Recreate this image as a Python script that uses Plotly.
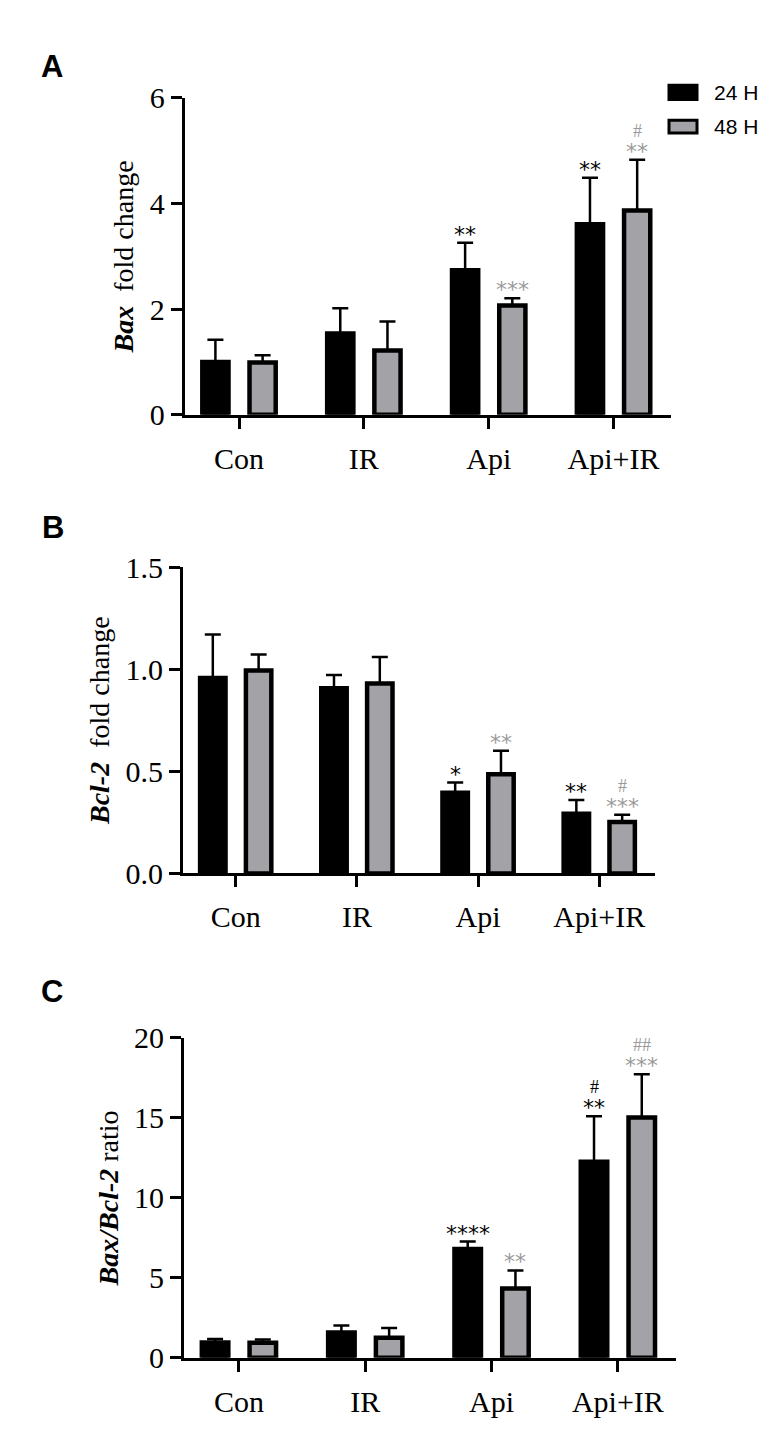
import plotly.graph_objects as go

W, H = 771, 1444

categories = ["Con", "IR", "Api", "Api+IR"]
series_names = ["24 H", "48 H"]
series_colors = ["#000000", "#a3a3a7"]
mark_colors = ["#000000", "#9a9a9a"]

# Panel A: Bax fold change
bax_24 = [1.00, 1.54, 2.74, 3.61]
bax_24_err = [0.42, 0.48, 0.52, 0.88]
bax_48 = [0.99, 1.22, 2.07, 3.87]
bax_48_err = [0.14, 0.55, 0.14, 0.96]

# Panel B: Bcl-2 fold change
bcl_24 = [0.957, 0.906, 0.395, 0.292]
bcl_24_err = [0.212, 0.065, 0.050, 0.068]
bcl_48 = [0.993, 0.930, 0.485, 0.252]
bcl_48_err = [0.079, 0.130, 0.116, 0.035]

# Panel C: Bax/Bcl-2 ratio
ratio_24 = [0.96, 1.59, 6.80, 12.26]
ratio_24_err = [0.22, 0.43, 0.47, 2.85]
ratio_48 = [0.94, 1.26, 4.34, 15.03]
ratio_48_err = [0.20, 0.61, 1.12, 2.70]

# significance marks (stars) and # marks per bar
sig_A_24 = ["", "", "**", "**"]
sig_A_48 = ["", "", "***", "**"]
hash_A_24 = ["", "", "", ""]
hash_A_48 = ["", "", "", "#"]
sig_B_24 = ["", "", "*", "**"]
sig_B_48 = ["", "", "**", "***"]
hash_B_24 = ["", "", "", ""]
hash_B_48 = ["", "", "", "#"]
sig_C_24 = ["", "", "****", "**"]
sig_C_48 = ["", "", "**", "***"]
hash_C_24 = ["", "", "", "#"]
hash_C_48 = ["", "", "", "##"]

y_ticks_A = [0, 2, 4, 6]
y_ticks_B = [0.0, 0.5, 1.0, 1.5]
y_ticks_C = [0, 5, 10, 15, 20]

SERIF = "Liberation Serif"
SANS = "Liberation Sans"

panels = [
    dict(vals=[bax_24, bax_48], errs=[bax_24_err, bax_48_err],
         sig=[sig_A_24, sig_A_48], hsh=[hash_A_24, hash_A_48],
         yrange=[0, 6], ticks=y_ticks_A, fmt="d",
         title="<b><i>Bax</i></b>\u00a0\u00a0fold change",
         xdom=[176.7 / W, 663 / W], ydom=[1 - 400 / H, 1 - 75.7 / H],
         letter="A", lpos=(44, 44)),
    dict(vals=[bcl_24, bcl_48], errs=[bcl_24_err, bcl_48_err],
         sig=[sig_B_24, sig_B_48], hsh=[hash_B_24, hash_B_48],
         yrange=[0, 1.5], ticks=y_ticks_B, fmt=".1f",
         title="<b><i>Bcl-2</i></b>\u00a0\u00a0fold change",
         xdom=[175 / W, 647 / W], ydom=[1 - 869.3 / H, 1 - 555.7 / H],
         letter="B", lpos=(45, 515)),
    dict(vals=[ratio_24, ratio_48], errs=[ratio_24_err, ratio_48_err],
         sig=[sig_C_24, sig_C_48], hsh=[hash_C_24, hash_C_48],
         yrange=[0, 20], ticks=y_ticks_C, fmt="d",
         title="<b><i>Bax/Bcl-2</i></b> ratio",
         xdom=[176 / W, 668 / W], ydom=[1 - 1365 / H, 1 - 1037.7 / H],
         letter="C", lpos=(44, 990)),
]

BARGAP = 0.244
BARGROUPGAP = 0.445
slot = (1 - BARGAP) / 2
offsets = [-slot / 2, slot / 2]

fig = go.Figure()
annotations = []
layout_axes = {}

for p, pan in enumerate(panels, start=1):
    xa = "x" if p == 1 else f"x{p}"
    ya = "y" if p == 1 else f"y{p}"
    for s in range(2):
        fig.add_trace(go.Bar(
            x=categories, y=pan["vals"][s], name=series_names[s],
            xaxis=xa, yaxis=ya, offsetgroup=str(s), showlegend=False,
            marker=dict(color=series_colors[s], line=dict(color="black", width=4.5)),
            error_y=dict(type="data", array=pan["errs"][s], arrayminus=[0] * 4,
                         symmetric=False, color="black", thickness=2.5, width=8),
        ))
        for i in range(len(categories)):
            top = pan["vals"][s][i] + pan["errs"][s][i]
            if pan["sig"][s][i]:
                annotations.append(dict(
                    x=i + offsets[s], y=top, xref=xa, yref=ya, text=pan["sig"][s][i],
                    showarrow=False, yanchor="bottom", yshift=-6,
                    font=dict(family="DejaVu Sans", size=22, color=mark_colors[s]),
                ))
            if pan["hsh"][s][i]:
                annotations.append(dict(
                    x=i + offsets[s], y=top, xref=xa, yref=ya, text=pan["hsh"][s][i],
                    showarrow=False, yanchor="bottom", yshift=17,
                    font=dict(family=SERIF, size=18, color=mark_colors[s]),
                ))
    kx = "xaxis" if p == 1 else f"xaxis{p}"
    ky = "yaxis" if p == 1 else f"yaxis{p}"
    layout_axes[kx] = dict(
        domain=pan["xdom"], anchor=ya, type="category", range=[-0.435, 3.46],
        showline=True, linecolor="black", linewidth=3, ticks="outside",
        ticklen=11, tickwidth=3, tickcolor="black", showgrid=False, zeroline=False,
        tickfont=dict(family=SERIF, size=30, color="black"), ticklabelstandoff=4,
        fixedrange=True,
    )
    layout_axes[ky] = dict(
        domain=pan["ydom"], anchor=xa, range=pan["yrange"], tickvals=pan["ticks"],
        tickformat=pan["fmt"], showline=True, linecolor="black", linewidth=3,
        ticks="outside", ticklen=11, tickwidth=3, tickcolor="black",
        showgrid=False, zeroline=False,
        tickfont=dict(family=SERIF, size=30, color="black"),
        title=dict(text=pan["title"], font=dict(family=SERIF, size=28, color="black"),
                   standoff=8),
    )
    annotations.append(dict(
        x=pan["lpos"][0] / W, y=1 - pan["lpos"][1] / H, xref="paper", yref="paper",
        text=f"<b>{pan['letter']}</b>", showarrow=False, xanchor="center", yanchor="middle",
        font=dict(family=SANS, size=31, color="black"),
    ))

# manual legend (top right)
shapes = []
legend_rows = [(62.7, 77.3), (98.5, 111.5)]
for s, (y0, y1) in enumerate(legend_rows):
    shapes.append(dict(type="rect", xref="paper", yref="paper",
                       x0=661 / W, x1=689 / W, y0=1 - y1 / H, y1=1 - y0 / H,
                       fillcolor=series_colors[s], line=dict(color="black", width=3)))
    annotations.append(dict(
        x=704 / W, y=1 - (y0 + y1) / 2 / H, xref="paper", yref="paper",
        text=series_names[s], showarrow=False, xanchor="left", yanchor="middle",
        font=dict(family=SANS, size=21, color="black"),
    ))

fig.update_layout(
    width=W, height=H, margin=dict(l=0, r=0, t=0, b=0),
    paper_bgcolor="white", plot_bgcolor="white",
    barmode="group", bargap=BARGAP, bargroupgap=BARGROUPGAP,
    annotations=annotations, shapes=shapes, showlegend=False,
    **layout_axes,
)

fig.write_html("out.html")
